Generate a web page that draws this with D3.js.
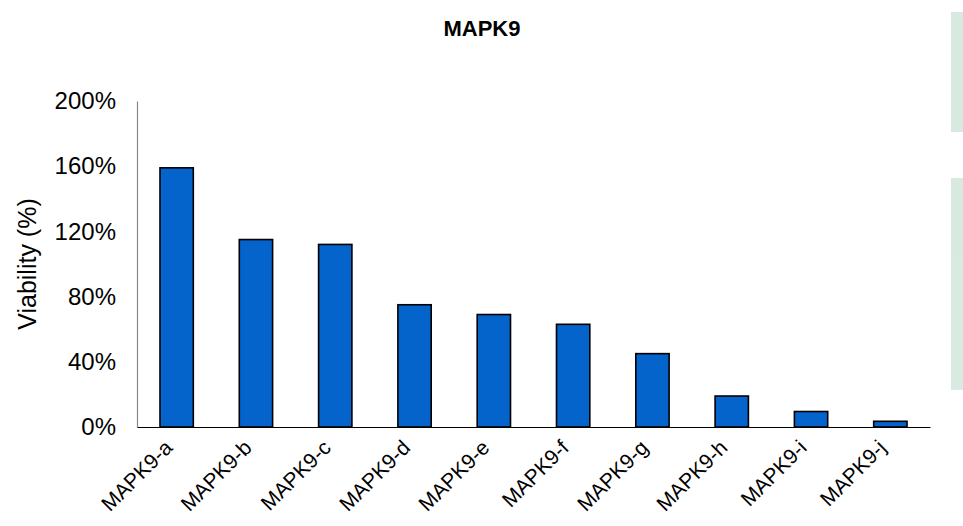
<!DOCTYPE html>
<html>
<head>
<meta charset="utf-8">
<script src="https://cdn.jsdelivr.net/npm/d3@7"></script>
<style>
  html, body { margin: 0; padding: 0; background: #fff; }
  svg { display: block; font-family: Arial, "Liberation Sans", sans-serif; }
</style>
</head>
<body>
<svg id="chart" width="963" height="526"></svg>
<script>
// Viability per MAPK9 construct
const categories = ["MAPK9-a", "MAPK9-b", "MAPK9-c", "MAPK9-d", "MAPK9-e",
                    "MAPK9-f", "MAPK9-g", "MAPK9-h", "MAPK9-i", "MAPK9-j"];
const viability = [159, 115, 112, 75, 69, 63, 45, 19, 9.5, 3.5];
const yTicks = [0, 40, 80, 120, 160, 200];
const title = "MAPK9";
const yTitle = "Viability (%)";

const svg = d3.select("#chart");
const margin = { left: 137, right: 33, top: 101, bottom: 99 };
const W = 963, H = 526;

const x = d3.scaleBand()
  .domain(categories)
  .range([margin.left, W - margin.right])
  .paddingInner(0.58)
  .paddingOuter(0.29);

const y = d3.scaleLinear()
  .domain([0, 200])
  .range([H - margin.bottom, margin.top]);

// faint decorative strip at the right edge
const deco = svg.append("g").attr("fill", "#cfe6d8").attr("opacity", 0.8);
deco.append("rect").attr("x", 951).attr("y", 12).attr("width", 12).attr("height", 120);
deco.append("rect").attr("x", 951).attr("y", 178).attr("width", 12).attr("height", 212);

// bars
svg.append("g")
  .selectAll("rect")
  .data(categories)
  .join("rect")
  .attr("x", d => x(d))
  .attr("y", (d, i) => y(viability[i]))
  .attr("width", x.bandwidth())
  .attr("height", (d, i) => y(0) - y(viability[i]))
  .attr("fill", "#0563CC")
  .attr("stroke", "#000")
  .attr("stroke-width", 1.6);

// y axis
const yAxis = svg.append("g")
  .attr("transform", `translate(${margin.left},0)`)
  .call(d3.axisLeft(y).tickValues(yTicks).tickSize(0).tickPadding(21)
    .tickFormat(d => d + "%"));
yAxis.select(".domain").attr("stroke", "#888").attr("stroke-width", 1.2);
yAxis.selectAll("text")
  .attr("font-size", 24)
  .attr("fill", "#000")
  .attr("font-family", "Arial, 'Liberation Sans', sans-serif");

// x axis
const xAxis = svg.append("g")
  .attr("transform", `translate(0,${y(0)})`)
  .call(d3.axisBottom(x).tickSize(0).tickPadding(0));
xAxis.select(".domain").attr("stroke", "#000").attr("stroke-width", 1.2);
xAxis.selectAll("text")
  .attr("font-size", 21)
  .attr("fill", "#000")
  .attr("font-family", "Arial, 'Liberation Sans', sans-serif")
  .attr("text-anchor", "end")
  .attr("dy", null)
  .attr("y", 0)
  .attr("transform", "translate(-3,22) rotate(-45)");

// axis title
svg.append("text")
  .attr("transform", `translate(36,${(y(0) + y(200)) / 2}) rotate(-90)`)
  .attr("text-anchor", "middle")
  .attr("font-size", 25)
  .attr("fill", "#000")
  .text(yTitle);

// chart title
svg.append("text")
  .attr("x", 482)
  .attr("y", 36)
  .attr("text-anchor", "middle")
  .attr("font-size", 22)
  .attr("font-weight", "bold")
  .attr("fill", "#000")
  .text(title);
</script>
</body>
</html>
